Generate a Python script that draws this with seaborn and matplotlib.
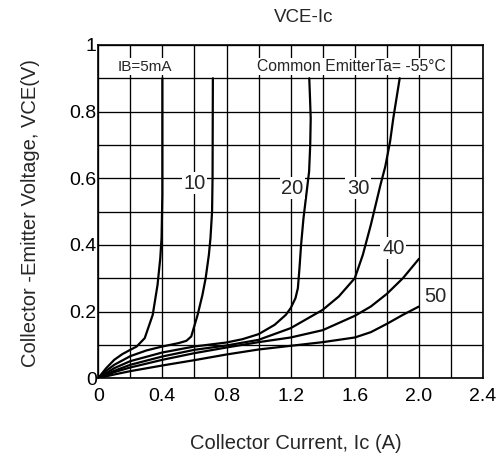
import numpy as np
import pandas as pd
import matplotlib
matplotlib.use("Agg")
import matplotlib.pyplot as plt
import seaborn as sns

# VCE - Ic characteristics, common emitter, Ta = -55 C
# one curve per base current (mA)
ib_levels = [5, 10, 20, 30, 40, 50]

ic_5 = [0, 0.05, 0.1, 0.15, 0.2, 0.24, 0.29, 0.34, 0.37, 0.387, 0.395, 0.4, 0.4]
vce_5 = [0, 0.03, 0.055, 0.072, 0.085, 0.095, 0.12, 0.19, 0.28, 0.36, 0.42, 0.55, 0.9]

ic_10 = [0, 0.05, 0.1, 0.2, 0.3, 0.4, 0.5, 0.55, 0.58, 0.62, 0.65, 0.67, 0.69, 0.70, 0.71, 0.713, 0.715]
vce_10 = [0, 0.022, 0.04, 0.066, 0.083, 0.095, 0.105, 0.112, 0.125, 0.19, 0.25, 0.3, 0.37, 0.42, 0.5, 0.6, 0.9]

ic_20 = [0, 0.1, 0.2, 0.4, 0.6, 0.8, 0.9, 1.0, 1.1, 1.17, 1.2, 1.23, 1.245, 1.255, 1.265,
         1.28, 1.3, 1.315, 1.322, 1.325, 1.32, 1.316]
vce_20 = [0, 0.03, 0.051, 0.077, 0.095, 0.107, 0.117, 0.132, 0.16, 0.19, 0.21, 0.24, 0.27, 0.33, 0.4,
          0.48, 0.56, 0.62, 0.7, 0.78, 0.85, 0.9]

ic_30 = [0, 0.1, 0.2, 0.4, 0.6, 0.8, 1.0, 1.2, 1.4, 1.5, 1.6, 1.65, 1.7, 1.73, 1.76, 1.79, 1.82, 1.84, 1.86, 1.88]
vce_30 = [0, 0.022, 0.04, 0.065, 0.085, 0.098, 0.115, 0.15, 0.205, 0.245, 0.3, 0.37, 0.46, 0.52, 0.58, 0.635, 0.71, 0.78, 0.84, 0.9]

ic_40 = [0, 0.1, 0.2, 0.4, 0.6, 0.8, 1.0, 1.2, 1.4, 1.6, 1.7, 1.8, 1.9, 2.0]
vce_40 = [0, 0.018, 0.032, 0.055, 0.075, 0.092, 0.108, 0.122, 0.144, 0.187, 0.215, 0.253, 0.3, 0.358]

ic_50 = [0, 0.1, 0.2, 0.4, 0.6, 0.8, 1.0, 1.2, 1.4, 1.6, 1.7, 1.8, 1.9, 2.0]
vce_50 = [0, 0.011, 0.021, 0.038, 0.054, 0.071, 0.086, 0.097, 0.108, 0.122, 0.138, 0.163, 0.19, 0.215]

x_ticks = [0, 0.4, 0.8, 1.2, 1.6, 2.0, 2.4]
x_tick_labels = ["0", "0.4", "0.8", "1.2", "1.6", "2.0", "2.4"]
y_ticks = [0, 0.2, 0.4, 0.6, 0.8, 1.0]
y_tick_labels = ["0", "0.2", "0.4", "0.6", "0.8", "1"]

curves = {5: (ic_5, vce_5), 10: (ic_10, vce_10), 20: (ic_20, vce_20),
          30: (ic_30, vce_30), 40: (ic_40, vce_40), 50: (ic_50, vce_50)}
rows = []
for ib in ib_levels:
    ic, vce = curves[ib]
    for i, (a, b) in enumerate(zip(ic, vce)):
        rows.append({"ib": ib, "order": i, "ic": a, "vce": b})
df = pd.DataFrame(rows)

sns.set_style("white")
plt.rcParams["font.family"] = ["Liberation Sans", "DejaVu Sans"]

fig = plt.figure(figsize=(4.96, 4.68), dpi=100)
ax = fig.add_axes([0.198, 0.192, 0.776, 0.712])

sns.lineplot(data=df, x="ic", y="vce", units="ib", estimator=None, sort=False,
             color="black", lw=1.6, ax=ax, zorder=3)

ax.set_xlim(0, 2.4)
ax.set_ylim(0, 1.0)
ax.set_xticks(np.arange(0, 2.41, 0.2), minor=True)
ax.set_yticks(np.arange(0, 1.01, 0.1), minor=True)
ax.set_xticks(x_ticks)
ax.set_xticklabels(x_tick_labels, fontsize=14)
ax.set_yticks(y_ticks)
ax.set_yticklabels(y_tick_labels, fontsize=14)
ax.grid(True, which="both", color="black", lw=0.95)
ax.tick_params(which="both", length=0, colors="black")
ax.tick_params(axis="x", pad=7)
ax.tick_params(axis="y", pad=1)
for s in ax.spines.values():
    s.set_color("black")
    s.set_linewidth(1.2)
ax.set_xlabel("")
ax.set_ylabel("")

box = dict(boxstyle="square,pad=0.08", fc="white", ec="none")
ax.text(0.12, 0.935, "IB=5mA", fontsize=11, va="center", ha="left", bbox=box, zorder=4)
ax.text(0.99, 0.935, "Common EmitterTa= -55°C", fontsize=11.3, va="center", ha="left",
        bbox=box, zorder=4)
ax.text(0.6, 0.585, "10", fontsize=14.5, ha="center", va="center", bbox=box, zorder=4)
ax.text(1.21, 0.57, "20", fontsize=14.5, ha="center", va="center", bbox=box, zorder=4)
ax.text(1.62, 0.57, "30", fontsize=14.5, ha="center", va="center", bbox=box, zorder=4)
ax.text(1.84, 0.39, "40", fontsize=14.5, ha="center", va="center", bbox=box, zorder=4)
ax.text(2.1, 0.245, "50", fontsize=14.5, ha="center", va="center", bbox=box, zorder=4)

fig.text(0.612, 0.962, "VCE-Ic", fontsize=13.5, ha="center", va="center")
fig.text(0.597, 0.053, "Collector Current, Ic (A)", fontsize=14.5, ha="center", va="center")
fig.text(0.062, 0.545, "Collector -Emitter Voltage, VCE(V)", fontsize=14.5, ha="center",
         va="center", rotation=90)

fig.savefig("out.png", dpi=100)
